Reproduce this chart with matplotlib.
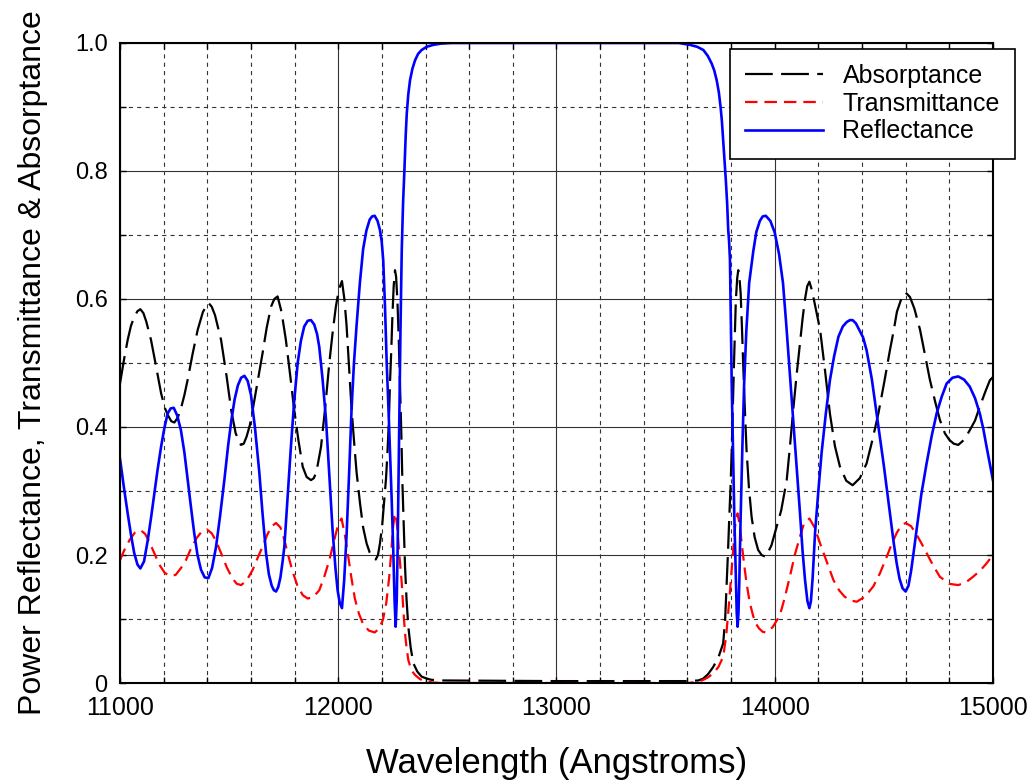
import numpy as np
import matplotlib.pyplot as plt
from matplotlib.ticker import MultipleLocator, FuncFormatter

plt.rcParams['font.family'] = ['Liberation Sans', 'DejaVu Sans']
plt.rcParams['lines.scale_dashes'] = False

# values, wavelength in Angstroms
wl_refl = [11000, 11018, 11035, 11050, 11065, 11080, 11093, 11110, 11127, 11142,
           11157, 11172, 11188, 11203, 11218, 11232, 11246, 11262, 11279, 11295,
           11310, 11325, 11340, 11355, 11371, 11388, 11405, 11422, 11440, 11458,
           11478, 11495, 11510, 11525, 11540, 11555, 11570, 11585, 11600, 11618,
           11638, 11653, 11669, 11682, 11695, 11705, 11715, 11725, 11735, 11745,
           11753, 11768, 11783, 11798, 11814, 11829, 11844, 11860, 11875, 11890,
           11903, 11913, 11928, 11944, 11959, 11974, 11987, 11997, 12007, 12017,
           12027, 12038, 12050, 12061, 12072, 12084, 12099, 12114, 12129, 12144,
           12155, 12167, 12180, 12191, 12199, 12206, 12214, 12222, 12230, 12237,
           12245, 12252, 12258, 12263, 12268, 12272, 12276, 12280, 12285, 12291,
           12297, 12303, 12309, 12314, 12321, 12329, 12340, 12352, 12366, 12382,
           12405, 12435, 12470, 12520, 13000, 13560, 13612, 13645, 13673, 13693,
           13711, 13723, 13734, 13744, 13752, 13758, 13764, 13770, 13776, 13782,
           13787, 13791, 13795, 13799, 13803, 13809, 13815, 13822, 13826, 13830,
           13834, 13838, 13844, 13852, 13860, 13870, 13883, 13902, 13916, 13932,
           13945, 13959, 13980, 14000, 14020, 14038, 14053, 14068, 14085, 14100,
           14116, 14128, 14139, 14150, 14159, 14166, 14174, 14185, 14200, 14215,
           14234, 14253, 14272, 14292, 14312, 14330, 14345, 14357, 14372, 14390,
           14405, 14421, 14445, 14467, 14484, 14500, 14515, 14528, 14545, 14559,
           14572, 14586, 14600, 14613, 14625, 14637, 14650, 14672, 14696, 14720,
           14742, 14765, 14788, 14815, 14841, 14868, 14894, 14918, 14940, 14956,
           14971, 14986, 15000]
reflectance = [0.35, 0.305, 0.265, 0.232, 0.203, 0.185, 0.179, 0.19, 0.223, 0.258,
               0.296, 0.333, 0.369, 0.398, 0.421, 0.429, 0.43, 0.418, 0.395, 0.36,
               0.317, 0.275, 0.234, 0.2, 0.177, 0.165, 0.164, 0.18, 0.213, 0.26,
               0.317, 0.37, 0.41, 0.443, 0.465, 0.477, 0.48, 0.472, 0.45, 0.4,
               0.33, 0.265, 0.203, 0.17, 0.152, 0.145, 0.143, 0.15, 0.165, 0.19,
               0.213, 0.29, 0.369, 0.44, 0.50, 0.535, 0.557, 0.566, 0.567, 0.56,
               0.545, 0.525, 0.475, 0.411, 0.325, 0.239, 0.18, 0.145, 0.125, 0.117,
               0.16, 0.23, 0.33, 0.428, 0.50, 0.559, 0.625, 0.678, 0.707, 0.724,
               0.729, 0.730, 0.722, 0.708, 0.69, 0.661, 0.59, 0.50, 0.43, 0.364,
               0.285, 0.208, 0.13, 0.088, 0.13, 0.208, 0.31, 0.416, 0.55, 0.677,
               0.75, 0.80, 0.855, 0.89, 0.92, 0.942, 0.96, 0.973, 0.983, 0.989,
               0.994, 0.997, 0.999, 1.0, 1.0, 1.0, 0.997, 0.994, 0.989, 0.98,
               0.968, 0.957, 0.942, 0.923, 0.90, 0.878, 0.848, 0.82, 0.786, 0.75,
               0.708, 0.69, 0.661, 0.57, 0.468, 0.36, 0.26, 0.16, 0.11, 0.088,
               0.11, 0.16, 0.26, 0.37, 0.468, 0.55, 0.625, 0.675, 0.705, 0.722,
               0.729, 0.730, 0.722, 0.704, 0.67, 0.625, 0.56, 0.49, 0.41, 0.34,
               0.265, 0.205, 0.161, 0.128, 0.117, 0.128, 0.165, 0.235, 0.30, 0.36,
               0.42, 0.473, 0.51, 0.541, 0.557, 0.564, 0.567, 0.567, 0.562, 0.55,
               0.54, 0.52, 0.475, 0.421, 0.38, 0.34, 0.30, 0.265, 0.22, 0.187,
               0.163, 0.148, 0.143, 0.152, 0.175, 0.205, 0.239, 0.295, 0.343, 0.387,
               0.421, 0.447, 0.468, 0.477, 0.479, 0.474, 0.463, 0.445, 0.421, 0.397,
               0.369, 0.342, 0.317]

wl_trans = [11000, 11020, 11043, 11068, 11093, 11115, 11135, 11157, 11180, 11205,
            11230, 11255, 11280, 11302, 11325, 11350, 11375, 11398, 11420, 11440,
            11463, 11490, 11516, 11535, 11555, 11580, 11608, 11630, 11653, 11675,
            11695, 11715, 11735, 11752, 11768, 11790, 11814, 11838, 11860, 11885,
            11913, 11935, 11959, 11985, 12000, 12015, 12030, 12046, 12060, 12076,
            12095, 12114, 12140, 12167, 12187, 12205, 12220, 12233, 12243, 12251,
            12257, 12263, 12270, 12278, 12285, 12291, 12298, 12306, 12313, 12321,
            12335, 12352, 12375, 12398, 12430, 12470, 13000, 13600, 13650, 13673,
            13695, 13718, 13742, 13764, 13778, 13792, 13801, 13810, 13820, 13830,
            13839, 13849, 13860, 13871, 13886, 13902, 13915, 13929, 13945, 13959,
            13990, 14023, 14045, 14068, 14092, 14116, 14135, 14159, 14183, 14208,
            14238, 14269, 14295, 14320, 14348, 14376, 14414, 14452, 14483, 14513,
            14537, 14560, 14580, 14600, 14625, 14650, 14673, 14696, 14727, 14757,
            14800, 14841, 14875, 14909, 14940, 14971, 15000]
transmittance = [0.192, 0.208, 0.223, 0.235, 0.239, 0.233, 0.22, 0.203, 0.185, 0.172,
                 0.167, 0.169, 0.18, 0.192, 0.21, 0.226, 0.237, 0.240, 0.234, 0.222,
                 0.203, 0.18, 0.163, 0.155, 0.153, 0.16, 0.177, 0.195, 0.213, 0.232,
                 0.245, 0.250, 0.243, 0.225, 0.203, 0.175, 0.151, 0.137, 0.132, 0.134,
                 0.145, 0.165, 0.192, 0.228, 0.248, 0.257, 0.232, 0.197, 0.165, 0.132,
                 0.108, 0.092, 0.082, 0.079, 0.085, 0.099, 0.125, 0.164, 0.205, 0.243,
                 0.26, 0.265, 0.245, 0.208, 0.18, 0.156, 0.115, 0.078, 0.055, 0.036,
                 0.02, 0.0125, 0.006, 0.003, 0.001, 0.0, 0.0, 0.0, 0.002, 0.005,
                 0.009, 0.015, 0.025, 0.041, 0.075, 0.13, 0.17, 0.208, 0.25, 0.265,
                 0.248, 0.218, 0.185, 0.156, 0.125, 0.104, 0.092, 0.085, 0.08, 0.079,
                 0.087, 0.105, 0.132, 0.164, 0.2, 0.229, 0.25, 0.257, 0.243, 0.218,
                 0.19, 0.161, 0.145, 0.135, 0.129, 0.127, 0.135, 0.151, 0.172, 0.197,
                 0.218, 0.235, 0.246, 0.250, 0.245, 0.232, 0.218, 0.203, 0.183, 0.166,
                 0.155, 0.153, 0.157, 0.166, 0.175, 0.187, 0.20]

wl_abs = [11000, 11018, 11035, 11050, 11065, 11080, 11093, 11107, 11120, 11142,
          11165, 11188, 11205, 11220, 11235, 11249, 11265, 11280, 11295, 11310,
          11333, 11356, 11380, 11405, 11420, 11435, 11463, 11488, 11510, 11530,
          11554, 11567, 11580, 11595, 11608, 11630, 11653, 11672, 11692, 11707,
          11722, 11740, 11760, 11780, 11798, 11818, 11837, 11855, 11875, 11888,
          11900, 11921, 11940, 11959, 11975, 11989, 12003, 12017, 12028, 12038,
          12050, 12061, 12073, 12084, 12100, 12114, 12130, 12144, 12158, 12172,
          12182, 12191, 12201, 12211, 12219, 12226, 12232, 12237, 12243, 12248,
          12254, 12260, 12265, 12271, 12277, 12283, 12289, 12294, 12300, 12306,
          12313, 12321, 12332, 12344, 12362, 12382, 12405, 12427, 12470, 13000,
          13600, 13650, 13673, 13695, 13718, 13742, 13764, 13773, 13780, 13786,
          13792, 13798, 13803, 13808, 13813, 13818, 13822, 13828, 13833, 13838,
          13844, 13850, 13856, 13863, 13871, 13882, 13894, 13908, 13924, 13940,
          13959, 13985, 14008, 14030, 14055, 14070, 14085, 14100, 14116, 14128,
          14139, 14149, 14159, 14172, 14185, 14208, 14230, 14253, 14276, 14299,
          14328, 14357, 14390, 14421, 14448, 14475, 14502, 14528, 14545, 14560,
          14580, 14600, 14620, 14640, 14666, 14690, 14711, 14735, 14757, 14780,
          14800, 14820, 14841, 14868, 14894, 14918, 14940, 14965, 14986, 15000]
absorptance = [0.468, 0.505, 0.536, 0.558, 0.572, 0.581, 0.584, 0.578, 0.565, 0.536,
               0.495, 0.453, 0.43, 0.418, 0.409, 0.407, 0.415, 0.430, 0.45, 0.474,
               0.515, 0.552, 0.58, 0.594, 0.588, 0.575, 0.536, 0.48, 0.425, 0.39,
               0.372, 0.374, 0.385, 0.403, 0.427, 0.47, 0.515, 0.555, 0.588, 0.6,
               0.604, 0.58, 0.536, 0.48, 0.427, 0.378, 0.338, 0.322, 0.317, 0.32,
               0.33, 0.369, 0.43, 0.50, 0.55, 0.588, 0.615, 0.628, 0.6, 0.559,
               0.49, 0.428, 0.375, 0.329, 0.28, 0.243, 0.218, 0.204, 0.196, 0.193,
               0.2, 0.218, 0.245, 0.286, 0.32, 0.364, 0.41, 0.468, 0.52, 0.572,
               0.62, 0.645, 0.635, 0.598, 0.54, 0.468, 0.39, 0.312, 0.245, 0.182,
               0.13, 0.088, 0.055, 0.031, 0.018, 0.01, 0.007, 0.005, 0.004, 0.003,
               0.003, 0.004, 0.007, 0.014, 0.025, 0.04, 0.062, 0.1, 0.156, 0.205,
               0.26, 0.31, 0.364, 0.43, 0.494, 0.55, 0.598, 0.632, 0.645, 0.635,
               0.609, 0.555, 0.494, 0.43, 0.364, 0.305, 0.26, 0.228, 0.208, 0.2,
               0.197, 0.215, 0.243, 0.27, 0.317, 0.37, 0.427, 0.48, 0.531, 0.57,
               0.60, 0.62, 0.627, 0.612, 0.59, 0.552, 0.49, 0.421, 0.37, 0.338,
               0.316, 0.309, 0.32, 0.343, 0.38, 0.421, 0.47, 0.52, 0.55, 0.58,
               0.6, 0.61, 0.603, 0.585, 0.552, 0.51, 0.474, 0.44, 0.411, 0.39,
               0.38, 0.374, 0.372, 0.38, 0.395, 0.41, 0.432, 0.455, 0.473, 0.478]

fig = plt.figure(figsize=(10.33, 7.84), dpi=100)
ax = fig.add_axes([0.1162, 0.1288, 0.845, 0.8164])

ax.plot(wl_abs, absorptance, color='black', lw=1.6, dashes=[20, 6],
        dash_joinstyle='round', label='Absorptance')
ax.plot(wl_trans, transmittance, color='red', lw=1.6, dashes=[9, 5],
        dash_joinstyle='round', label='Transmittance')
ax.plot(wl_refl, reflectance, color='blue', lw=1.9, solid_joinstyle='round',
        label='Reflectance')

ax.set_xlim(11000, 15000)
ax.set_ylim(0, 1)
ax.xaxis.set_major_locator(MultipleLocator(1000))
ax.xaxis.set_minor_locator(MultipleLocator(200))
ax.yaxis.set_major_locator(MultipleLocator(0.2))
ax.yaxis.set_minor_locator(MultipleLocator(0.1))
ax.yaxis.set_major_formatter(FuncFormatter(lambda v, p: '0' if abs(v) < 1e-9 else '%.1f' % v))

ax.grid(which='major', color='#333333', lw=0.8, ls='-')
ax.grid(which='minor', color='#333333', lw=0.8, dashes=(3, 3))
ax.set_axisbelow(True)

ax.tick_params(which='both', direction='in', top=True, right=True, length=4, width=1)
ax.tick_params(axis='x', labelsize=18, pad=9)
ax.tick_params(axis='y', labelsize=17, pad=9)
for s in ax.spines.values():
    s.set_linewidth(1.5)

ax.set_xlabel('Wavelength (Angstroms)', fontsize=25)
ax.set_ylabel('Power Reflectance, Transmittance & Absorptance', fontsize=23)
ax.xaxis.set_label_coords(0.5, -0.1)
ax.yaxis.set_label_coords(-0.083, 0.5)

leg = ax.legend(loc='upper left', bbox_to_anchor=(730 / 1033, 1 - 49 / 784),
                bbox_transform=fig.transFigure, borderaxespad=0, fontsize=18,
                handlelength=3.1, fancybox=False, framealpha=1, edgecolor='black',
                borderpad=0.6, labelspacing=0.15, handletextpad=0.8)
leg.get_frame().set_linewidth(1.2)
leg.set_zorder(5)

fig.savefig('out.png', dpi=100)
